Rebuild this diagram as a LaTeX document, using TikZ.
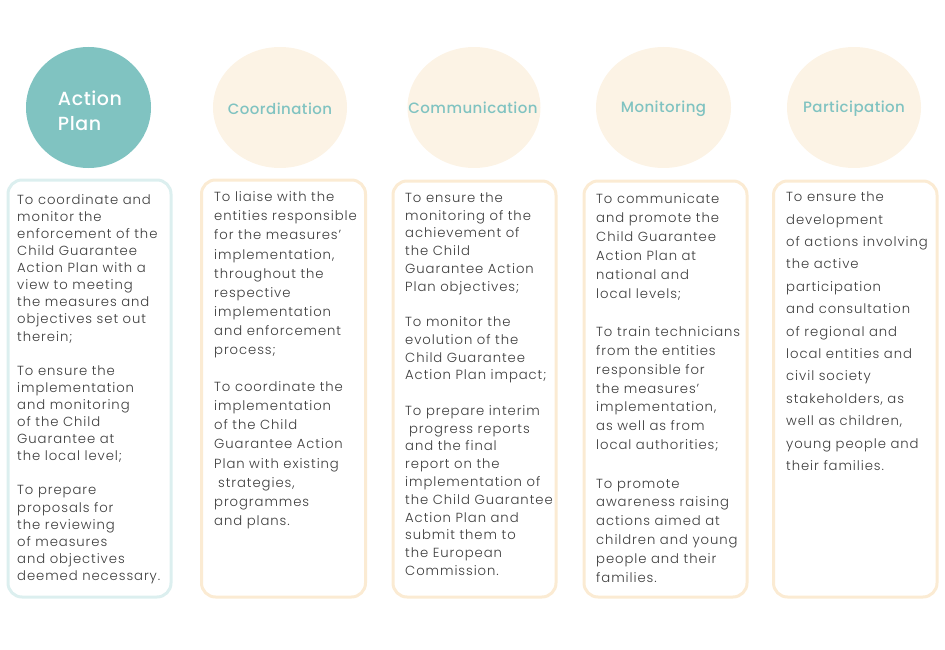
\documentclass[tikz,border=0pt]{standalone}
\usepackage{fontspec}
\setmainfont{Poppins}[UprightFont={* Light}, LetterSpace=7]
\newfontfamily\titlefont{Poppins}[UprightFont={* Medium}, LetterSpace=3]
\definecolor{teal}{HTML}{80C3C1}
\definecolor{cream}{HTML}{FCF3E5}
\definecolor{tealline}{HTML}{DCEFEF}
\definecolor{creamline}{HTML}{FBEBD3}
\definecolor{txt}{HTML}{3C3C3C}
\tikzset{
  head/.style={ellipse, minimum width=#1, minimum height=121pt, inner sep=0pt},
  cbox/.style={draw=creamline, line width=3pt, rounded corners=14pt},
  tbox/.style={draw=tealline, line width=3pt, rounded corners=14pt},
  htext/.style={text=teal, font=\titlefont\fontsize{15}{18}\selectfont, inner sep=0pt},
  body/.style={anchor=north west, inner sep=0pt, align=left, text=txt},
}
\usetikzlibrary{shapes.geometric}
\newcommand{\tp}{\rule{0pt}{12pt}}
\begin{document}
\begin{tikzpicture}[x=1pt,y=-1pt]
\useasboundingbox (0,0) rectangle (945,650);
% heads
\node[head=125pt, fill=teal] (h1) at (88.5,107.5) {};
\node[head=134pt, fill=cream] (h2) at (280,107.5) {};
\node[head=133pt, fill=cream] (h3) at (474,107.5) {};
\node[head=135pt, fill=cream] (h4) at (663.5,107.5) {};
\node[head=134pt, fill=cream] (h5) at (854,107.5) {};
\node[text=white, font=\titlefont\fontsize{19}{25}\selectfont, align=left, inner sep=0pt] (t1) at (90,111) {Action\\Plan};
\node[htext] (t2) at (280,108.5) {Coordination};
\node[htext] (t3) at (473,107.5) {Communication};
\node[htext] (t4) at (663.5,108.5) {Monitoring};
\node[htext] (t5) at (854,108.5) {Participation};
% boxes
\draw[tbox] (8,180) rectangle (171,597);
\draw[cbox] (201.5,180) rectangle (365.5,597);
\draw[cbox] (393,181) rectangle (556,597);
\draw[cbox] (584,181) rectangle (747,597);
\draw[cbox] (773.5,181) rectangle (937,597);
% texts
\node[body, font=\fontsize{13.2}{17.1}\selectfont] (b1) at (17,192) {\tp To coordinate and\\monitor the\\enforcement of the\\Child Guarantee\\Action Plan with a\\view to meeting\\the measures and\\objectives set out\\therein;\\[17.1pt]To ensure the\\implementation\\and monitoring\\of the Child\\Guarantee at\\the local level;\\[17.1pt]To prepare\\proposals for\\the reviewing\\of measures\\and objectives\\deemed necessary.};
\node[body, font=\fontsize{13.2}{19.1}\selectfont] (b2) at (214,189.5) {\tp To liaise with the\\entities responsible\\for the measures’\\implementation,\\throughout the\\respective\\implementation\\and enforcement\\process;\\[18pt]To coordinate the\\implementation\\of the Child\\Guarantee Action\\Plan with existing\\\hspace*{0.3em}strategies,\\programmes\\and plans.};
\node[body, font=\fontsize{13.2}{17.8}\selectfont] (b3) at (405,190) {\tp To ensure the\\monitoring of the\\achievement of\\the Child\\Guarantee Action\\Plan objectives;\\[17.5pt]To monitor the\\evolution of the\\Child Guarantee\\Action Plan impact;\\[17.5pt]To prepare interim\\\hspace*{0.3em}progress reports\\and the final\\report on the\\implementation of\\the Child Guarantee\\Action Plan and\\submit them to\\the European\\Commission.};
\node[body, font=\fontsize{13.2}{18.9}\selectfont] (b4) at (596,191.3) {\tp To communicate\\and promote the\\Child Guarantee\\Action Plan at\\national and\\local levels;\\[19.4pt]To train technicians\\from the entities\\responsible for\\the measures’\\implementation,\\as well as from\\local authorities;\\[19.4pt]To promote\\awareness raising\\actions aimed at\\children and young\\people and their\\families.};
\node[body, font=\fontsize{13.2}{22.4}\selectfont] (b5) at (786,189.5) {\tp To ensure the\\development\\of actions involving\\the active\\participation\\and consultation\\of regional and\\local entities and\\civil society\\stakeholders, as\\well as children,\\young people and\\their families.};
\end{tikzpicture}
\end{document}
